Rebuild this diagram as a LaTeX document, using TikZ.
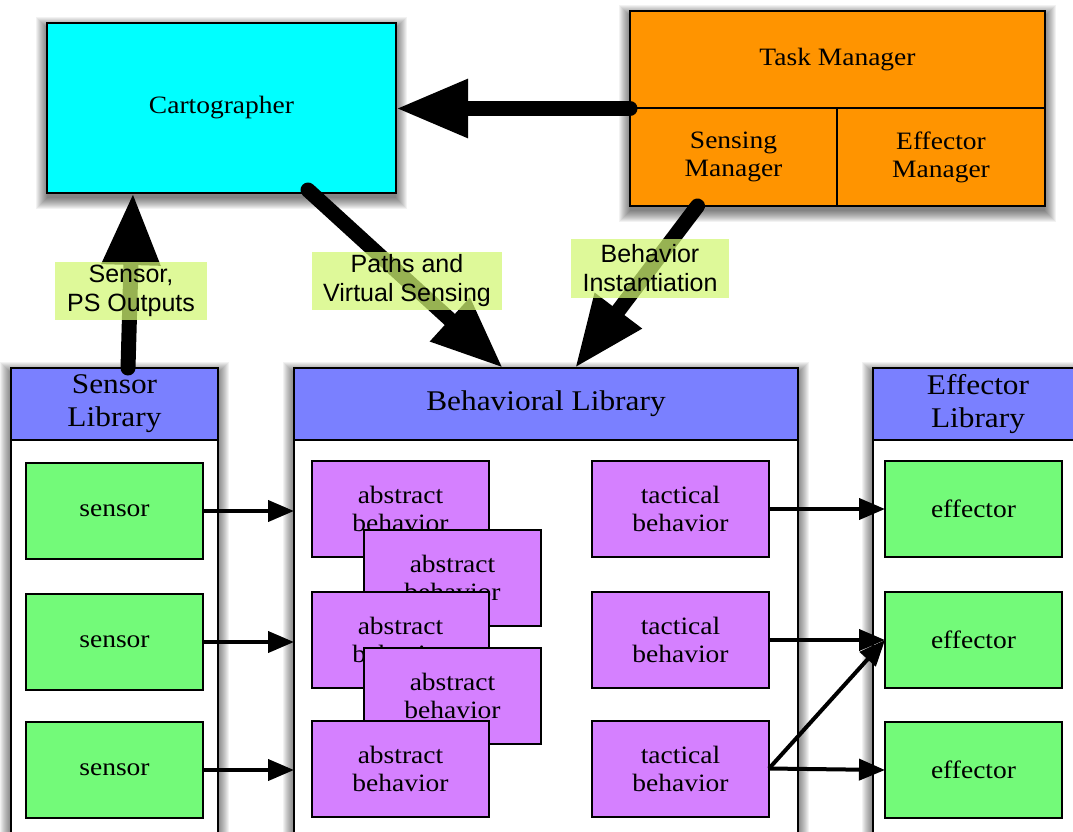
\documentclass[tikz,border=0pt]{standalone}
\usepackage{fontspec}
\setmainfont{Liberation Serif}[FakeStretch=1.1]
\setsansfont{Liberation Sans}
\usetikzlibrary{arrows.meta}

\definecolor{cartcyan}{RGB}{0,255,255}
\definecolor{taskorange}{RGB}{255,148,0}
\definecolor{headblue}{RGB}{122,128,255}
\definecolor{itemgreen}{RGB}{115,250,121}
\definecolor{behavpurple}{RGB}{213,128,255}
\definecolor{tagfill}{RGB}{210,248,115}

\pgfdeclarelayer{bglayer}
\pgfdeclarelayer{shadowlayer}
\pgfsetlayers{bglayer,shadowlayer,main}

% soft drop shadow under a named node, built from stacked translucent rectangles
\newcommand\castshadow[1]{%
  \begin{pgfonlayer}{shadowlayer}
    \foreach \r in {0,...,11}{%
      \fill[black, fill opacity=0.05]
        ([shift={(-\r,\r+5)}]#1.south west) rectangle ([shift={(\r,-\r+5)}]#1.north east);
    }
  \end{pgfonlayer}}

\begin{document}
\begin{tikzpicture}[x=1pt,y=-1pt,
  every node/.style={inner sep=0pt, outer sep=0pt},
  block/.style={draw=black, line width=2pt, align=center,
      font=\fontsize{25}{28}\selectfont},
  itembox/.style={block, minimum width=177, minimum height=96},
  sensorbox/.style={itembox, fill=itemgreen},
  effectorbox/.style={itembox, fill=itemgreen},
  behavbox/.style={itembox, fill=behavpurple},
  libbody/.style={draw=black, line width=2.2pt, fill=white,
      anchor=north west, minimum height=470},
  libhead/.style={draw=black, line width=2.2pt, fill=headblue, align=center,
      anchor=north west, minimum height=72, font=\fontsize{28.5}{33}\selectfont},
  taskpart/.style={block, fill=taskorange, anchor=north west},
  smallarrow/.style={line width=4pt, -{Triangle[length=26pt,width=21pt]}},
  bigarrow/.style={line width=15pt, line cap=round,
      -{Triangle[length=72pt,width=55pt]}},
  tag/.style={fill=tagfill, fill opacity=0.72, text opacity=1, align=center,
      font=\sffamily\fontsize{25}{29}\selectfont}
]
\clip (0,0) rectangle (1073,832);
\begin{pgfonlayer}{bglayer}
  \fill[white] (0,0) rectangle (1073,832);
\end{pgfonlayer}

% library frames
\node[libbody, minimum width=207] (sl) at (11,368) {};
\node[libhead, minimum width=207] (slh) at (11,368) {Sensor\\Library};
\node[libbody, minimum width=504] (bl) at (294,368) {};
\node[libhead, minimum width=504] (blh) at (294,368) {Behavioral Library};
\node[libbody, minimum width=210] (el) at (873,368) {};
\node[libhead, minimum width=210] (elh) at (873,368) {Effector\\Library};
\castshadow{sl}
\castshadow{bl}
\castshadow{el}

% sensors
\node[sensorbox] (s1) at (114.5,511) {sensor};
\node[sensorbox] (s2) at (114.5,642) {sensor};
\node[sensorbox] (s3) at (114.5,770) {sensor};

% abstract behaviors, stacked
\node[behavbox] (a1) at (400.5,509) {abstract\\behavior};
\node[behavbox] (a2) at (452.5,578) {abstract\\behavior};
\node[behavbox] (a3) at (400.5,640) {abstract\\behavior};
\node[behavbox] (a4) at (452.5,695.5) {abstract\\behavior};
\node[behavbox] (a5) at (400.5,768.5) {abstract\\behavior};

% tactical behaviors
\node[behavbox] (t1) at (680.5,509) {tactical\\behavior};
\node[behavbox] (t2) at (680.5,640) {tactical\\behavior};
\node[behavbox] (t3) at (680.5,768.5) {tactical\\behavior};

% effectors
\node[effectorbox] (e1) at (973.5,509) {effector};
\node[effectorbox] (e2) at (973.5,640) {effector};
\node[effectorbox] (e3) at (973.5,770) {effector};

% sensor outputs into the behavioral library
\draw[smallarrow] (s1.east) -- (s1.east -| bl.west);
\draw[smallarrow] (s2.east) -- (s2.east -| bl.west);
\draw[smallarrow] (s3.east) -- (s3.east -| bl.west);

% tactical behaviors driving effectors
\draw[smallarrow] (t1.east) -- (e1.west);
\draw[smallarrow] (t2.east) -- (e2.west);
\draw[smallarrow] (t3.east) -- (e2.west);
\draw[smallarrow] (t3.east) -- (e3.west);

% cartographer
\node[block, fill=cartcyan, minimum width=349, minimum height=170,
  anchor=north west] (cart) at (47,23) {Cartographer};
\castshadow{cart}

% task manager with its two sub-managers
\node[draw=black, line width=2pt, fill=taskorange,
  minimum width=415, minimum height=195, anchor=north west] (tm) at (630,11) {};
\node[taskpart, minimum width=415, minimum height=97] (tmt) at (630,11) {Task Manager};
\node[taskpart, minimum width=207, minimum height=98] (sm) at (630,108) {Sensing\\Manager};
\node[taskpart, minimum width=208, minimum height=98] (em) at (837,108) {Effector\\Manager};
\castshadow{tm}

% main data flows
\draw[bigarrow] (tm.west) -- (cart.east |- tm.west);
\draw[bigarrow] ([xshift=117pt]sl.north west) -- ([xshift=86pt]cart.south west);
\draw[bigarrow] ([xshift=261pt,yshift=3pt]cart.south west) -- ([xshift=209pt]bl.north west);
\draw[bigarrow] ([xshift=-36pt]sm.south) -- ([xshift=281pt]bl.north west);

% flow labels
\node[tag, minimum width=152, minimum height=58] (tagsensor) at (131,291) {Sensor,\\PS Outputs};
\node[tag, minimum width=190, minimum height=58] (tagpaths) at (407,281) {Paths and\\Virtual Sensing};
\node[tag, minimum width=158, minimum height=59] (taginst) at (650,268.5) {Behavior\\Instantiation};
\end{tikzpicture}
\end{document}
